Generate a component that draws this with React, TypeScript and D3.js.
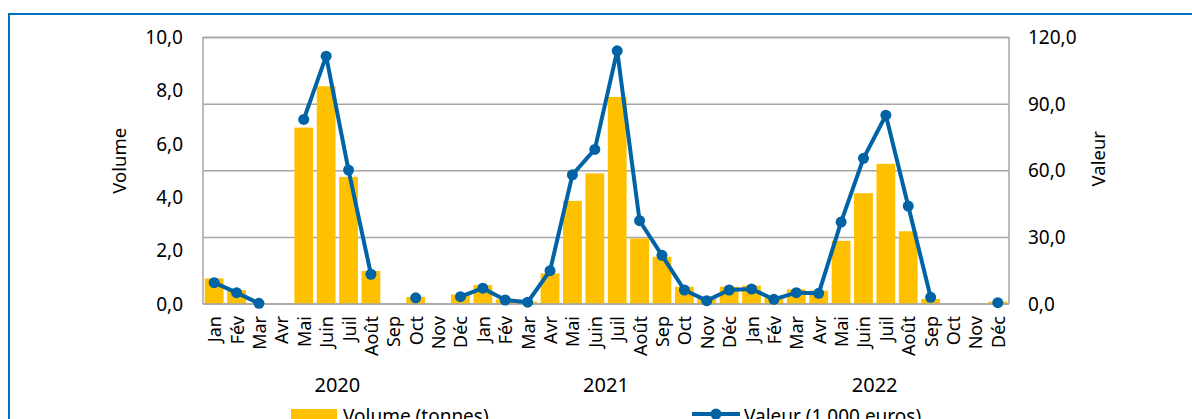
import React, { useEffect, useRef } from 'react';
import * as d3 from 'd3';

const months = ['Jan', 'Fév', 'Mar', 'Avr', 'Mai', 'Juin', 'Juil', 'Août', 'Sep', 'Oct', 'Nov', 'Déc'];
const years = ['2020', '2021', '2022'];

// Volume (tonnes), left axis
const volume = [
  0.96, 0.52, 0.02, 0, 6.62, 8.17, 4.77, 1.24, 0, 0.27, 0, 0.36,
  0.71, 0.17, 0.09, 1.15, 3.87, 4.9, 7.77, 2.46, 1.77, 0.65, 0.2, 0.65,
  0.69, 0.27, 0.55, 0.5, 2.37, 4.16, 5.26, 2.73, 0.19, 0, 0, 0.09,
];

// Valeur (1 000 euros), right axis — null = no data
const valeur: (number | null)[] = [
  9.6, 5.1, 0.3, null, 83.1, 111.6, 60.3, 13.4, null, 2.8, null, 3.3,
  7.1, 1.8, 0.8, 15.0, 58.2, 69.6, 114.0, 37.5, 21.9, 6.3, 1.5, 6.3,
  6.75, 2.1, 5.1, 4.8, 36.9, 65.6, 85.0, 44.1, 3.0, null, null, 0.6,
];

const leftTicks = [0, 2, 4, 6, 8, 10];
const rightTicks = [0, 30, 60, 90, 120];

const FONT = '"Noto Sans", sans-serif';
const BAR = '#FFC000';
const LINE = '#0063A6';
const GRID = '#A6A6A6';

export default function App() {
  const svgRef = useRef<SVGSVGElement>(null);
  const width = 1192;
  const height = 419;

  useEffect(() => {
    if (!svgRef.current) return;
    const svg = d3.select(svgRef.current);
    svg.selectAll('*').remove();

    const left = 203, right = 1009, top = 37.5, bottom = 304;

    // outer blue frame
    svg.append('rect')
      .attr('x', 9).attr('y', 14)
      .attr('width', 1300).attr('height', 600)
      .attr('fill', 'none')
      .attr('stroke', '#0070C0')
      .attr('stroke-width', 2);

    const keys = d3.range(volume.length);
    const x = d3.scaleBand<number>().domain(keys).range([left, right]).padding(0);
    const yL = d3.scaleLinear().domain([0, 10]).range([bottom, top]);
    const yR = d3.scaleLinear().domain([0, 120]).range([bottom, top]);

    // gridlines (right axis)
    svg.append('g')
      .selectAll('line')
      .data(rightTicks)
      .join('line')
      .attr('x1', left).attr('x2', right)
      .attr('y1', d => yR(d)).attr('y2', d => yR(d))
      .attr('stroke', GRID)
      .attr('stroke-width', 1.5);

    // plot border
    svg.append('path')
      .attr('d', `M${left},${bottom}V${top}H${right}V${bottom}`)
      .attr('fill', 'none')
      .attr('stroke', GRID)
      .attr('stroke-width', 1.5);

    // bars
    const bw = x.bandwidth() * 0.84;
    svg.append('g')
      .selectAll('rect')
      .data(volume)
      .join('rect')
      .attr('x', (d, i) => (x(i) as number) + (x.bandwidth() - bw) / 2)
      .attr('y', d => yL(d))
      .attr('width', bw)
      .attr('height', d => yL(0) - yL(d))
      .attr('fill', BAR);

    // baseline
    svg.append('line')
      .attr('x1', left).attr('x2', right)
      .attr('y1', bottom).attr('y2', bottom)
      .attr('stroke', GRID)
      .attr('stroke-width', 1.5);

    // value line
    const cx = (i: number) => (x(i) as number) + x.bandwidth() / 2;
    const line = d3.line<number | null>()
      .defined(d => d !== null)
      .x((d, i) => cx(i))
      .y(d => yR(d as number));

    svg.append('path')
      .datum(valeur)
      .attr('d', line)
      .attr('fill', 'none')
      .attr('stroke', LINE)
      .attr('stroke-width', 4)
      .attr('stroke-linejoin', 'round');

    svg.append('g')
      .selectAll('circle')
      .data(valeur.map((v, i) => ({ v, i })).filter(d => d.v !== null))
      .join('circle')
      .attr('cx', d => cx(d.i))
      .attr('cy', d => yR(d.v as number))
      .attr('r', 5.5)
      .attr('fill', LINE);

    const fmt = (v: number) => d3.format('.1f')(v).replace('.', ',');

    // left ticks
    svg.append('g')
      .selectAll('text')
      .data(leftTicks)
      .join('text')
      .attr('x', 183)
      .attr('y', d => yL(d))
      .attr('dy', '0.35em')
      .attr('text-anchor', 'end')
      .attr('font-family', FONT)
      .attr('font-size', 19)
      .attr('fill', '#000')
      .text(d => fmt(d));

    // right ticks
    svg.append('g')
      .selectAll('text')
      .data(rightTicks)
      .join('text')
      .attr('x', 1028)
      .attr('y', d => yR(d))
      .attr('dy', '0.35em')
      .attr('text-anchor', 'start')
      .attr('font-family', FONT)
      .attr('font-size', 19)
      .attr('fill', '#000')
      .text(d => fmt(d));

    // axis titles
    svg.append('text')
      .attr('transform', `translate(118,${(top + bottom) / 2 - 10}) rotate(-90)`)
      .attr('text-anchor', 'middle')
      .attr('dominant-baseline', 'central')
      .attr('font-family', FONT)
      .attr('font-size', 18.5)
      .text('Volume');

    svg.append('text')
      .attr('transform', `translate(1097,${(top + bottom) / 2 - 12}) rotate(-90)`)
      .attr('text-anchor', 'middle')
      .attr('dominant-baseline', 'central')
      .attr('font-family', FONT)
      .attr('font-size', 18.5)
      .text('Valeur');

    // month labels
    svg.append('g')
      .selectAll('text')
      .data(keys)
      .join('text')
      .attr('transform', i => `translate(${cx(i)},316) rotate(-90)`)
      .attr('text-anchor', 'end')
      .attr('dominant-baseline', 'central')
      .attr('font-family', FONT)
      .attr('font-size', 18)
      .text(i => months[i % 12]);

    // year labels
    svg.append('g')
      .selectAll('text')
      .data(years)
      .join('text')
      .attr('x', (d, j) => ((x(j * 12) as number) + (x(j * 12 + 11) as number) + x.bandwidth()) / 2)
      .attr('y', 392)
      .attr('text-anchor', 'middle')
      .attr('font-family', FONT)
      .attr('font-size', 20)
      .text(d => d);

    // legend
    svg.append('rect')
      .attr('x', 291).attr('y', 409)
      .attr('width', 46).attr('height', 14)
      .attr('fill', BAR);
    svg.append('text')
      .attr('x', 343).attr('y', 423)
      .attr('font-family', FONT)
      .attr('font-size', 19)
      .text('Volume (tonnes)');

    svg.append('line')
      .attr('x1', 692).attr('x2', 740)
      .attr('y1', 414).attr('y2', 414)
      .attr('stroke', LINE)
      .attr('stroke-width', 4);
    svg.append('circle')
      .attr('cx', 716).attr('cy', 414)
      .attr('r', 5.5)
      .attr('fill', LINE);
    svg.append('text')
      .attr('x', 744).attr('y', 423)
      .attr('font-family', FONT)
      .attr('font-size', 19)
      .text('Valeur (1 000 euros)');
  }, []);

  return (
    <svg
      ref={svgRef}
      width={width}
      height={height}
      style={{ position: 'absolute', left: 0, top: 0, background: '#fff' }}
    />
  );
}
